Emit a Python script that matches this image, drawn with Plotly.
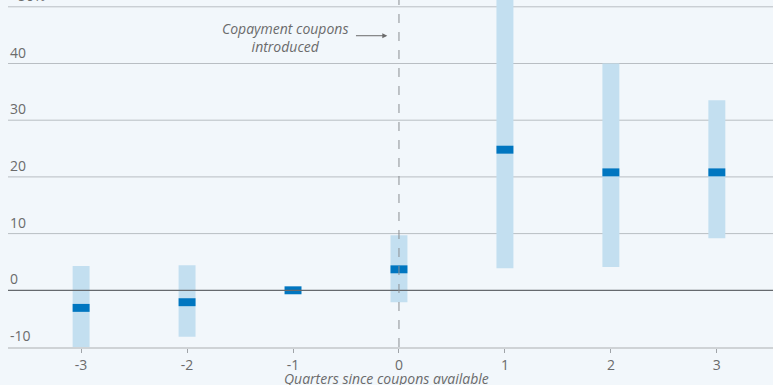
import plotly.graph_objects as go

quarters = [-3, -2, -1, 0, 1, 2, 3]
estimate = [-3.1, -2.1, 0.0, 3.7, 24.8, 20.8, 20.8]
ci_low = [-11.0, -8.2, 0.0, -2.1, 3.9, 4.1, 9.2]
ci_high = [4.3, 4.4, 0.0, 9.7, 52.0, 40.0, 33.5]
y_ticks = [-10, 0, 10, 20, 30, 40, 50]
y_tick_labels = ["-10", "0", "10", "20", "30", "40", "+50%"]

BG = "#f2f7fb"
LIGHT = "#c3dff0"
DARK = "#0076c0"
GRID = "#b9bec3"
TXT = "#6b6b6b"
FONT = "Open Sans"

point_h = 1.4
bar_w = 0.16

fig = go.Figure()
fig.add_trace(go.Bar(
    x=quarters, y=[h - l for h, l in zip(ci_high, ci_low)], base=ci_low,
    width=bar_w, marker=dict(color=LIGHT, line=dict(width=0)), hoverinfo="skip"))
fig.add_trace(go.Bar(
    x=quarters, y=[point_h] * len(estimate), base=[e - point_h / 2 for e in estimate],
    width=bar_w, marker=dict(color=DARK, line=dict(width=0))))

shapes = []
for t in y_ticks:
    if t == -10:
        continue
    shapes.append(dict(type="line", xref="paper", x0=0, x1=1, yref="y", y0=t, y1=t,
                       line=dict(color="#666a6e" if t == 0 else GRID, width=1.2 if t == 0 else 1),
                       layer="above" if t == 0 else "below"))
shapes.append(dict(type="line", xref="x", x0=0, x1=0, yref="paper", y0=0, y1=1,
                   line=dict(color="#8a8e92", width=1, dash="dash"), layer="above"))

annotations = []
for t, lab in zip(y_ticks, y_tick_labels):
    annotations.append(dict(xref="paper", x=0, yref="y", y=t, text=lab, showarrow=False,
                            xanchor="left", yanchor="bottom", yshift=0,
                            font=dict(family=FONT, size=14, color=TXT)))
annotations.append(dict(xref="x", x=-1.075, yref="y", y=44.6,
                        text="<i>Copayment coupons<br>introduced</i>", showarrow=False,
                        xanchor="center", yanchor="middle",
                        font=dict(family=FONT, size=14, color=TXT)))
annotations.append(dict(xref="x", x=-0.11, yref="y", y=44.9, ax=-0.42, ay=44.9,
                        axref="x", ayref="y", showarrow=True, arrowhead=2, arrowsize=1,
                        arrowwidth=1, arrowcolor="#6b6b6b", text=""))
annotations.append(dict(xref="paper", x=0.495, yref="paper", y=0, yshift=-20,
                        text="<i>Quarters since coupons available</i>", showarrow=False,
                        xanchor="center", yanchor="top",
                        font=dict(family=FONT, size=14, color=TXT)))

fig.update_layout(
    width=773, height=385, margin=dict(l=8, r=0, t=0, b=38, autoexpand=False),
    paper_bgcolor=BG, plot_bgcolor=BG, showlegend=False, barmode="overlay",
    shapes=shapes, annotations=annotations,
    xaxis=dict(range=[-3.69, 3.53], tickvals=quarters, ticktext=[str(q) for q in quarters],
               showgrid=False, zeroline=False, showline=True, linecolor="#cfd3d6", linewidth=2,
               ticks="outside", ticklen=4, tickcolor="#a0a4a8", automargin=False,
               tickfont=dict(family=FONT, size=14, color=TXT)),
    yaxis=dict(range=[-10, 51.2], showgrid=False, zeroline=False, showticklabels=False,
               showline=False, automargin=False),
)
fig.write_html("out.html")
